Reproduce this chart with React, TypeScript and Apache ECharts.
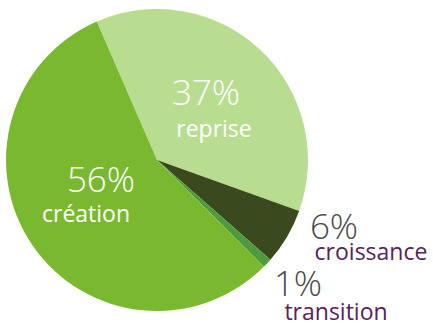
import React, { useEffect, useRef } from "react";
import * as echarts from "echarts";

const categories = ["reprise", "croissance", "transition", "création"];
const values = [37, 6, 1, 56];
const colors = ["#b9dd90", "#3a4a1e", "#4f9a3c", "#7ab92f"];

export default function App() {
  const ref = useRef<HTMLDivElement>(null);
  useEffect(() => {
    const chart = echarts.init(ref.current!, null, { renderer: "svg" });
    const font = "'Open Sans', sans-serif";
    const pct = (i: number) => values[i] + "%";
    const labelPos = [
      { x: 206, y: 91, nx: 214, ny: 128, pc: "#ffffff", nc: "#ffffff" },
      { x: 334, y: 225, nx: 371, ny: 251, pc: "#4a4a4a", nc: "#55245a" },
      { x: 298, y: 282, nx: 336, ny: 311, pc: "#4a4a4a", nc: "#55245a" },
      { x: 101, y: 178, nx: 86, ny: 213, pc: "#ffffff", nc: "#ffffff" },
    ];
    const graphic: any[] = [];
    categories.forEach((c, i) => {
      const p = labelPos[i];
      graphic.push({
        type: "text",
        x: p.x,
        y: p.y,
        z: 100,
        style: {
          text: pct(i),
          fill: p.pc,
          font: `300 35px ${font}`,
          lineHeight: 30,
          textAlign: "center",
          textVerticalAlign: "middle",
        },
      });
      graphic.push({
        type: "text",
        x: p.nx,
        y: p.ny,
        z: 100,
        style: {
          text: c,
          fill: p.nc,
          font: `400 23px ${font}`,
          lineHeight: 20,
          textAlign: "center",
          textVerticalAlign: "middle",
        },
      });
    });
    chart.setOption({
      animation: false,
      graphic,
      series: [
        {
          type: "pie",
          z: 1,
          center: [157, 160],
          radius: [0, 151],
          startAngle: 113.5,
          clockwise: true,
          label: { show: false },
          labelLine: { show: false },
          emphasis: { disabled: true },
          data: categories.map((c, i) => ({
            name: c,
            value: values[i],
            itemStyle: { color: colors[i] },
          })),
        },
      ],
    });
    return () => chart.dispose();
  }, []);
  return <div ref={ref} style={{ width: 433, height: 324, position: "absolute", left: 0, top: 0 }} />;
}
